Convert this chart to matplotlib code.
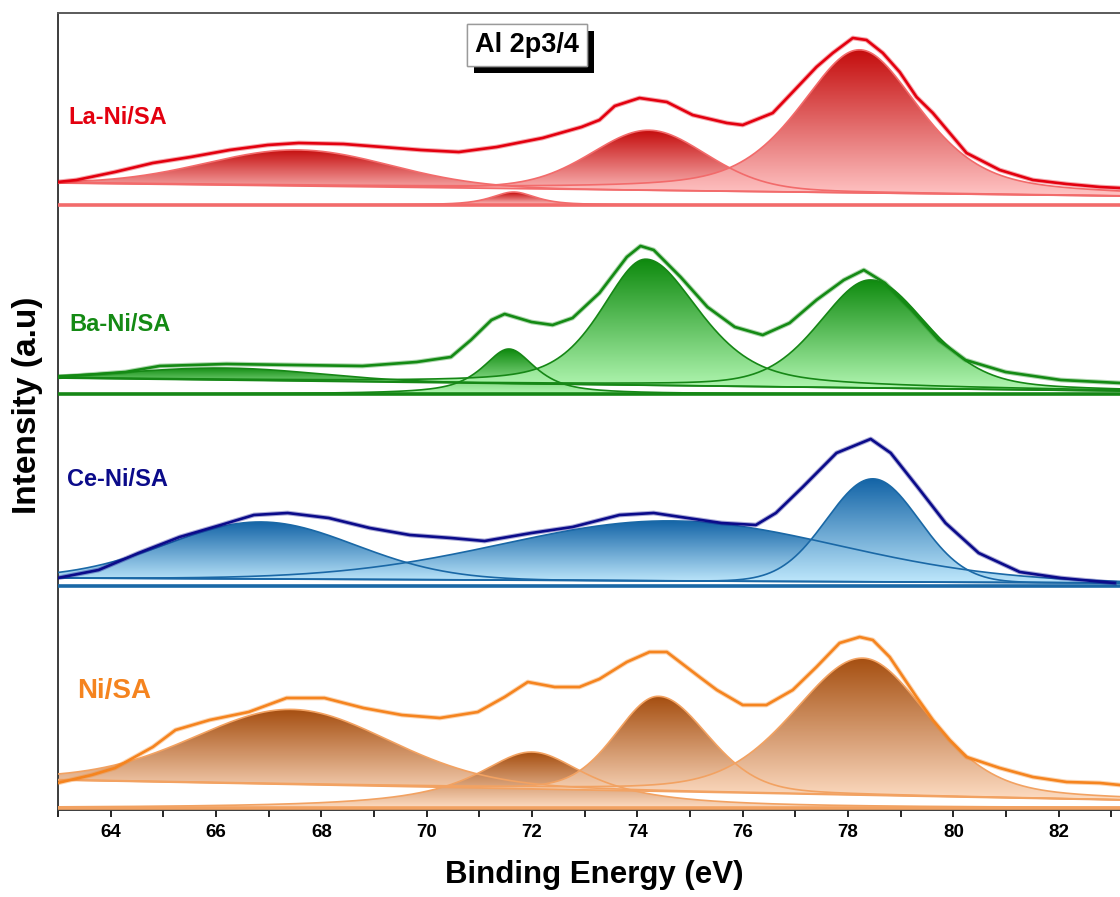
import numpy as np
import matplotlib
matplotlib.use("Agg")
import matplotlib.pyplot as plt
from matplotlib.colors import LinearSegmentedColormap
from matplotlib.patches import Polygon
from matplotlib.ticker import MultipleLocator
from matplotlib import patheffects

plt.rcParams['font.family'] = ['Liberation Sans', 'DejaVu Sans']
plt.rcParams['font.weight'] = 'bold'

# measured spectra (height above each panel's floor, a.u.)
la_x = [62.99, 63.35, 64.08, 64.80, 65.52, 66.26, 66.98, 67.57, 68.42, 69.16, 69.89, 70.61, 71.33,
        72.20, 72.94, 73.28, 73.57, 74.04, 74.56, 75.05, 75.70, 76.00, 76.57, 76.95, 77.40, 77.71,
        78.09, 78.35, 78.66, 78.98, 79.30, 79.61, 79.93, 80.25, 80.88, 81.51, 82.15, 82.78, 83.16]
la_y = [23, 25, 33, 42, 48, 55, 60, 62, 61, 58, 55, 53, 58,
        67, 78, 85, 99, 107, 103, 90, 82, 80, 92, 113, 138, 152,
        167, 165, 152, 133, 108, 92, 72, 52, 35, 25, 21, 18, 17]

ba_x = [62.99, 64.28, 64.93, 66.20, 67.49, 68.78, 69.81, 70.46, 70.84, 71.23, 71.48, 71.99, 72.39,
        72.77, 73.28, 73.80, 74.06, 74.31, 74.82, 75.33, 75.85, 76.38, 76.89, 77.40, 77.92, 78.30,
        78.70, 79.21, 79.72, 80.23, 80.99, 82.04, 83.16]
ba_y = [17, 22, 28, 30, 29, 28, 32, 37, 54, 74, 80, 72, 69,
        76, 101, 137, 148, 144, 117, 87, 67, 59, 71, 94, 114, 124,
        111, 84, 54, 34, 22, 14, 11]

ce_x = [62.99, 63.77, 64.53, 65.31, 66.09, 66.72, 67.36, 68.14, 68.92, 69.68, 70.46, 71.10, 71.99,
        72.77, 73.66, 74.31, 74.95, 75.60, 76.25, 76.63, 77.14, 77.78, 78.43, 78.81, 79.32, 79.85,
        80.48, 81.26, 82.04, 83.06]
ce_y = [8, 16, 33, 49, 61, 71, 73, 68, 58, 51, 48, 45, 53,
        59, 71, 73, 68, 63, 61, 73, 99, 133, 147, 133, 99, 63,
        33, 14, 8, 3]

ni_x = [62.99, 63.64, 64.08, 64.80, 65.23, 65.88, 66.62, 67.34, 68.06, 68.80, 69.53, 70.25, 70.97,
        71.48, 71.92, 72.43, 72.90, 73.28, 73.80, 74.23, 74.56, 75.18, 75.51, 76.00, 76.45, 76.95,
        77.40, 77.84, 78.22, 78.47, 78.79, 79.30, 79.61, 79.93, 80.25, 80.88, 81.51, 82.15, 82.78, 83.16]
ni_y = [25, 33, 40, 61, 78, 88, 96, 110, 110, 100, 93, 90, 96,
        111, 126, 121, 121, 129, 146, 156, 156, 131, 118, 103, 103, 118,
        141, 165, 171, 168, 151, 111, 88, 68, 51, 40, 31, 26, 25, 23]

# linear background (value at 63.0 eV, value at 83.2 eV)
la_bg = (22, 9)
ba_bg = (16, 3)
ce_bg = (8, 3)
ni_bg = (28, 8)

# fitted components: centre, height, left/right HWHM, Lorentzian fraction, sits on floor
la_peaks = [(67.56, 36, 2.05, 2.05, 0.0, False),
            (71.65, 13, 0.50, 0.50, 0.7, True),
            (74.22, 60, 1.30, 1.30, 0.2, False),
            (78.22, 143, 1.35, 1.35, 0.5, False)]
ba_peaks = [(66.20, 12, 2.10, 2.10, 0.0, False),
            (71.56, 45, 0.60, 0.60, 0.8, True),
            (74.16, 126, 1.00, 1.20, 0.5, False),
            (78.43, 108, 1.15, 1.25, 0.3, False)]
ce_peaks = [(66.85, 57, 2.10, 2.10, 0.0, False),
            (74.63, 60, 3.73, 3.73, 0.0, False),
            (78.47, 103, 1.03, 1.03, 0.0, False)]
ni_peaks = [(67.44, 75, 2.20, 2.20, 0.15, False),
            (71.99, 56, 1.30, 1.30, 1.0, True),
            (74.40, 95, 0.95, 1.10, 0.2, False),
            (78.28, 137, 1.55, 1.45, 0.3, False)]

names = ["La-Ni/SA", "Ba-Ni/SA", "Ce-Ni/SA", "Ni/SA"]
offsets = [605, 416, 224, 2]
label_y = [693, 486, 331, 119]
label_x = [63.19, 63.21, 63.17, 63.36]
label_size = [17, 17, 17, 20]
raw_colors = ["#e3000f", "#148a14", "#0b0b8a", "#f5841f"]
edge_colors = ["#f26b6b", "#168716", "#1a68a6", "#f2a262"]
dark_colors = ["#c40c0c", "#0e8a0e", "#1263a6", "#a54e10"]
light_colors = ["#ffc4c4", "#b4f8b4", "#bfe8fc", "#fddcc2"]

spectra = [(la_x, la_y), (ba_x, ba_y), (ce_x, ce_y), (ni_x, ni_y)]
backgrounds = [la_bg, ba_bg, ce_bg, ni_bg]
components = [la_peaks, ba_peaks, ce_peaks, ni_peaks]

X0, X1 = 63.0, 83.4
xs = np.linspace(X0, X1, 900)


def pseudo_voigt(x, c, h, wl, wr, eta):
    w = np.where(x < c, wl, wr)
    u = ((x - c) / w) ** 2
    return h * ((1 - eta) * np.exp(-np.log(2) * u) + eta / (1 + u))


def shaded_peak(ax, base, top, dark, light, z):
    verts = np.column_stack([np.r_[xs, xs[::-1]], np.r_[top, base[::-1]]])
    clip = Polygon(verts, closed=True, fc='none', ec='none')
    ax.add_patch(clip)
    cmap = LinearSegmentedColormap.from_list('shade', [light, dark])
    grad = np.linspace(0, 1, 256).reshape(-1, 1)
    im = ax.imshow(grad, cmap=cmap, aspect='auto', origin='lower',
                   extent=(X0, X1, base.min(), top.max()),
                   interpolation='bilinear', zorder=z)
    im.set_clip_path(clip)


fig = plt.figure(figsize=(11.2, 8.97), dpi=100)
ax = fig.add_axes([58 / 1120, 87 / 897, (X1 - X0) * 52.67 / 1120, 797 / 897])

for i in range(4):
    off = offsets[i]
    bl, br = backgrounds[i]
    bg = off + bl + (br - bl) * (xs - X0) / (83.2 - X0)
    floor = np.full_like(xs, off, dtype=float)

    tops = []
    for k, (c, h, wl, wr, eta, on_floor) in enumerate(components[i]):
        base = floor if on_floor else bg
        top = base + pseudo_voigt(xs, c, h, wl, wr, eta)
        shaded_peak(ax, base, top, dark_colors[i], light_colors[i], 2 + 0.01 * k)
        tops.append(top)

    for top in tops:
        ax.plot(xs, top, color=edge_colors[i], lw=1.2, zorder=3)
    ax.plot(xs, bg, color=edge_colors[i], lw=1.3, zorder=3)
    ax.plot(xs, floor, color=edge_colors[i], lw=2.6, zorder=3)

    rx, ry = spectra[i]
    ry = np.array(ry) + off
    ax.plot(rx, ry, color=raw_colors[i], lw=3.4, alpha=0.35, zorder=4,
            solid_joinstyle='round')
    ax.plot(rx, ry, color=raw_colors[i], lw=1.9, zorder=4.1, solid_joinstyle='round')

    ax.text(label_x[i], label_y[i], names[i], color=raw_colors[i], fontsize=label_size[i],
            fontweight='bold', ha='left', va='center', zorder=5)

box = ax.text(71.9, 765, "Al 2p3/4", fontsize=19.5, fontweight='bold', ha='center', va='center',
              zorder=6, bbox=dict(boxstyle='square,pad=0.3', fc='white', ec='#9a9a9a', lw=1))
box.get_bbox_patch().set_path_effects([
    patheffects.withSimplePatchShadow(offset=(5, -5), shadow_rgbFace='black', alpha=1.0),
    patheffects.Normal()])

ax.set_xlim(X0, X1)
ax.set_ylim(0, 797)
ax.set_yticks([])
ax.set_xticks(range(64, 84, 2))
ax.xaxis.set_minor_locator(MultipleLocator(1))
ax.tick_params(axis='x', which='both', direction='out', length=5, width=1.2,
               labelsize=13.5, pad=5, top=False)
for side in ['left', 'bottom', 'right', 'top']:
    ax.spines[side].set_color('#3c3c3c')
    ax.spines[side].set_linewidth(1.4)
ax.spines['top'].set_color('#5a5a5a')

ax.set_xlabel("Binding Energy (eV)", fontsize=22.5, fontweight='bold')
ax.xaxis.set_label_coords(0.499, -0.082)
ax.xaxis.label.set_va('center')
ax.set_ylabel("Intensity (a.u)", fontsize=24, fontweight='bold')
ax.yaxis.set_label_coords(-0.028, 0.508)
ax.yaxis.label.set_va('center')

fig.savefig("out.png", dpi=100)
